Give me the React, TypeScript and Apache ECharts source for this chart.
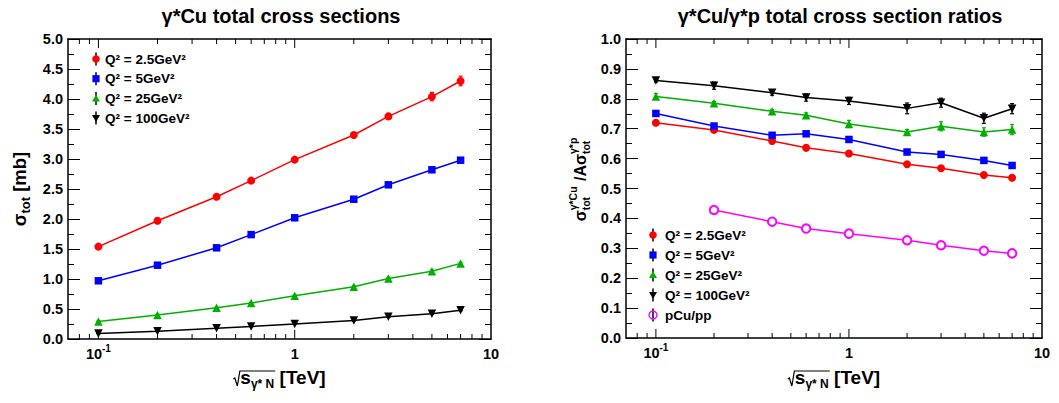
import React, { useEffect, useRef } from 'react';
import * as echarts from 'echarts';

// ---------- data ----------
const energies = [0.1, 0.2, 0.4, 0.6, 1, 2, 3, 5, 7];
const pCuEnergies = [0.2, 0.4, 0.6, 1, 2, 3, 5, 7];

const sigmaQ2_2p5 = [1.54, 1.97, 2.37, 2.64, 2.99, 3.40, 3.71, 4.04, 4.30];
const sigmaQ2_5 = [0.97, 1.23, 1.52, 1.74, 2.02, 2.33, 2.57, 2.82, 2.98];
const sigmaQ2_25 = [0.29, 0.40, 0.52, 0.60, 0.72, 0.87, 1.01, 1.13, 1.26];
const sigmaQ2_100 = [0.09, 0.13, 0.18, 0.21, 0.25, 0.31, 0.37, 0.42, 0.48];
const sigmaErr_2p5 = [0.03, 0.03, 0.03, 0.03, 0.035, 0.04, 0.05, 0.07, 0.08];
const sigmaErr_5 = [0.02, 0.02, 0.02, 0.02, 0.025, 0.03, 0.03, 0.04, 0.04];
const sigmaErr_25 = [0.01, 0.01, 0.01, 0.01, 0.015, 0.015, 0.02, 0.02, 0.02];
const sigmaErr_100 = [0.005, 0.005, 0.005, 0.005, 0.008, 0.008, 0.01, 0.01, 0.01];

const ratioQ2_2p5 = [0.720, 0.696, 0.659, 0.636, 0.617, 0.581, 0.568, 0.545, 0.536];
const ratioQ2_5 = [0.751, 0.709, 0.678, 0.683, 0.664, 0.622, 0.614, 0.594, 0.577];
const ratioQ2_25 = [0.808, 0.785, 0.758, 0.745, 0.716, 0.689, 0.708, 0.689, 0.697];
const ratioQ2_100 = [0.861, 0.844, 0.820, 0.804, 0.793, 0.768, 0.787, 0.735, 0.767];
const ratioPCu = [0.428, 0.389, 0.366, 0.349, 0.327, 0.310, 0.292, 0.283];
const ratioErr_2p5 = [0.004, 0.004, 0.004, 0.004, 0.005, 0.005, 0.005, 0.006, 0.006];
const ratioErr_5 = [0.005, 0.005, 0.005, 0.006, 0.006, 0.006, 0.007, 0.007, 0.007];
const ratioErr_25 = [0.010, 0.006, 0.006, 0.008, 0.012, 0.008, 0.015, 0.014, 0.017];
const ratioErr_100 = [0.005, 0.012, 0.008, 0.012, 0.012, 0.018, 0.015, 0.017, 0.017];

const leftYTicks = { min: 0, max: 5, interval: 0.5 };
const rightYTicks = { min: 0, max: 1, interval: 0.1 };
const xRange = { min: 0.07, max: 10 };
const xMajorTicks = [0.1, 1];
const xMinorTicks = [0.08, 0.09, 0.2, 0.3, 0.4, 0.5, 0.6, 0.7, 0.8, 0.9, 2, 3, 4, 5, 6, 7, 8, 9];

const legendLabels = ['Q² = 2.5GeV²', 'Q² = 5GeV²', 'Q² = 25GeV²', 'Q² = 100GeV²', 'pCu/pp'];

// ---------- styles ----------
const FONT = '"Liberation Sans", Arial, Helvetica, sans-serif';
const RED = '#ff0000';
const BLUE = '#0000ff';
const GREEN = '#00b000';
const BLACK = '#000000';
const MAGENTA = '#ff00ff';

let measureCtx: CanvasRenderingContext2D | null = null;
function measure(text: string, size: number): number {
  if (!measureCtx) measureCtx = document.createElement('canvas').getContext('2d');
  if (!measureCtx) return text.length * size * 0.6;
  measureCtx.font = `bold ${size}px ${FONT}`;
  return measureCtx.measureText(text).width;
}

type Seg =
  | { text: string; size: number; dy: number }
  | { sub: string; sup: string; size: number; subDy: number; supDy: number };

function mathLayout(segs: Seg[]) {
  let x = 0;
  const items: { text: string; size: number; x: number; dy: number }[] = [];
  for (const s of segs) {
    if ('text' in s) {
      items.push({ text: s.text, size: s.size, x, dy: s.dy });
      x += measure(s.text, s.size);
    } else {
      items.push({ text: s.sub, size: s.size, x, dy: s.subDy });
      items.push({ text: s.sup, size: s.size, x, dy: s.supDy });
      x += Math.max(measure(s.sub, s.size), measure(s.sup, s.size)) + 1;
    }
  }
  return { items, width: x };
}

function mathChildren(items: { text: string; size: number; x: number; dy: number }[], offX: number) {
  return items.map((it) => ({
    type: 'text',
    x: it.x + offX,
    y: it.dy - 0.35 * it.size,
    style: {
      text: it.text,
      fill: '#000',
      font: `bold ${it.size}px ${FONT}`,
      textAlign: 'left',
      textVerticalAlign: 'middle',
    },
  }));
}

function xTitle(cx: number, baseY: number) {
  const main = 19;
  const sub = 12;
  const { items, width } = mathLayout([
    { text: 's', size: main, dy: 0 },
    { text: 'γ* N', size: sub, dy: 4 },
    { text: ' [TeV]', size: main, dy: 0 },
  ]);
  const radW = 7;
  const left = cx - (width + radW) / 2;
  const xs = left + radW;
  const subEnd = xs + measure('s', main) + measure('γ* N', sub) + 1;
  return {
    type: 'group',
    children: [
      {
        type: 'polyline',
        shape: {
          points: [
            [xs - 7, baseY - 5],
            [xs - 5.5, baseY - 6],
            [xs - 3, baseY + 2],
            [xs - 0.5, baseY - 13],
            [subEnd, baseY - 13],
          ],
        },
        style: { stroke: '#000', lineWidth: 1.2, fill: 'none' },
      },
      ...mathChildren(items, 0).map((c: any) => ({ ...c, x: c.x + xs, y: c.y + baseY })),
    ],
  };
}

function yTitleGroup(segs: Seg[], baseX: number, cy: number) {
  const { items, width } = mathLayout(segs);
  return {
    type: 'group',
    x: baseX,
    y: cy,
    rotation: Math.PI / 2,
    children: mathChildren(items, -width / 2),
  };
}

function legendMarker(kind: string, cx: number, cy: number) {
  switch (kind) {
    case 'circle':
      return { type: 'circle', shape: { cx, cy, r: 3.8 }, style: { fill: RED } };
    case 'rect':
      return { type: 'rect', shape: { x: cx - 3.6, y: cy - 3.6, width: 7.2, height: 7.2 }, style: { fill: BLUE } };
    case 'up':
      return { type: 'polygon', shape: { points: [[cx, cy - 4], [cx + 4, cy + 3], [cx - 4, cy + 3]] }, style: { fill: GREEN } };
    case 'down':
      return { type: 'polygon', shape: { points: [[cx, cy + 4], [cx + 4, cy - 3], [cx - 4, cy - 3]] }, style: { fill: BLACK } };
    default:
      return { type: 'circle', shape: { cx, cy, r: 4 }, style: { fill: 'none', stroke: MAGENTA, lineWidth: 1.4 } };
  }
}

function legendGroup(kinds: string[], labels: string[], mx: number, tx: number, y0: number, dy: number) {
  const children: any[] = [];
  kinds.forEach((k, i) => {
    const cy = y0 + i * dy;
    children.push({ type: 'line', shape: { x1: mx, y1: cy - 6.5, x2: mx, y2: cy + 6.5 }, style: { stroke: '#000', lineWidth: 1.5 } });
    children.push(legendMarker(k, mx, cy));
    children.push({
      type: 'text',
      x: tx,
      y: cy,
      style: { text: labels[i], fill: '#000', font: `bold 13.5px ${FONT}`, textAlign: 'left', textVerticalAlign: 'middle' },
    });
  });
  return { type: 'group', children };
}

// ---------- axes ----------
function logXAxis(grid: number, position: 'bottom' | 'top') {
  return {
    gridIndex: grid,
    type: 'log',
    logBase: 10,
    min: xRange.min,
    max: xRange.max,
    position,
    axisLine: { show: true, onZero: false, lineStyle: { color: '#000', width: 1.5 } },
    axisTick: { show: false },
    minorTick: { show: false },
    splitLine: { show: false },
    axisLabel: {
      show: position === 'bottom',
      margin: 4,
      formatter: (v: number) => {
        const l = Math.log10(v);
        const e = Math.round(l);
        if (Math.abs(l - e) > 1e-6) return '';
        if (e === 0) return '{b|1}';
        if (e === 1) return '{b|10}';
        return `{b|10}{s|${e}}`;
      },
      rich: {
        b: { fontFamily: FONT, fontWeight: 'bold', fontSize: 14.5, color: '#000', lineHeight: 22, verticalAlign: 'middle' },
        s: { fontFamily: FONT, fontWeight: 'bold', fontSize: 10, color: '#000', lineHeight: 11, verticalAlign: 'top' },
      },
    },
  };
}

function valYAxis(grid: number, position: 'left' | 'right', t: { min: number; max: number; interval: number }) {
  return {
    gridIndex: grid,
    type: 'value',
    min: t.min,
    max: t.max,
    interval: t.interval,
    position,
    axisLine: { show: true, onZero: false, lineStyle: { color: '#000', width: 1.5 } },
    axisTick: { show: true, inside: true, length: 12, lineStyle: { color: '#000', width: 1 } },
    minorTick: { show: true, splitNumber: 2, length: 6, lineStyle: { color: '#000', width: 1 } },
    splitLine: { show: false },
    minorSplitLine: { show: false },
    axisLabel: {
      show: position === 'left',
      margin: 5,
      color: '#000',
      fontFamily: FONT,
      fontWeight: 'bold',
      fontSize: 14.5,
      formatter: (v: number) => v.toFixed(1),
    },
  };
}

// ---------- series helpers ----------
function tickSeries(xi: number, yi: number, yMin: number) {
  const data = [
    ...xMajorTicks.map((v) => [v, yMin, 1]),
    ...xMinorTicks.map((v) => [v, yMin, 0]),
  ];
  return {
    type: 'custom',
    xAxisIndex: xi,
    yAxisIndex: yi,
    silent: true,
    z: 5,
    data,
    renderItem: (params: any, api: any) => {
      const p = api.coord([api.value(0), api.value(1)]);
      const cs = params.coordSys;
      const len = api.value(2) ? 9 : 5;
      const style = { stroke: '#000', lineWidth: 1 };
      return {
        type: 'group',
        children: [
          { type: 'line', shape: { x1: p[0], y1: cs.y + cs.height, x2: p[0], y2: cs.y + cs.height - len }, style },
          { type: 'line', shape: { x1: p[0], y1: cs.y, x2: p[0], y2: cs.y + len }, style },
        ],
      };
    },
  };
}

function errSeries(xi: number, yi: number, xs: number[], ys: number[], errs: number[], color: string) {
  return {
    type: 'custom',
    xAxisIndex: xi,
    yAxisIndex: yi,
    silent: true,
    z: 2,
    data: xs.map((x, i) => [x, ys[i], errs[i]]),
    renderItem: (_params: any, api: any) => {
      const x = api.value(0);
      const y = api.value(1);
      const e = api.value(2);
      const top = api.coord([x, y + e]);
      const bot = api.coord([x, y - e]);
      const style = { stroke: color, lineWidth: 1.2 };
      return {
        type: 'group',
        children: [
          { type: 'line', shape: { x1: top[0], y1: top[1], x2: bot[0], y2: bot[1] }, style },
          { type: 'line', shape: { x1: top[0] - 2, y1: top[1], x2: top[0] + 2, y2: top[1] }, style },
          { type: 'line', shape: { x1: bot[0] - 2, y1: bot[1], x2: bot[0] + 2, y2: bot[1] }, style },
        ],
      };
    },
  };
}

function lineSeries(name: string, xi: number, yi: number, xs: number[], ys: number[], color: string, marker: string) {
  const base: any = {
    name,
    type: 'line',
    xAxisIndex: xi,
    yAxisIndex: yi,
    data: xs.map((x, i) => [x, ys[i]]),
    lineStyle: { color, width: 1.5 },
    itemStyle: { color },
    z: 3,
    silent: true,
  };
  if (marker === 'circle') Object.assign(base, { symbol: 'circle', symbolSize: 8 });
  if (marker === 'rect') Object.assign(base, { symbol: 'rect', symbolSize: 7.5 });
  if (marker === 'up') Object.assign(base, { symbol: 'triangle', symbolSize: 8.5 });
  if (marker === 'down') Object.assign(base, { symbol: 'triangle', symbolSize: 8.5, symbolRotate: 180 });
  if (marker === 'open')
    Object.assign(base, { symbol: 'emptyCircle', symbolSize: 8.5, itemStyle: { color, borderColor: color, borderWidth: 1.4 } });
  return base;
}

export default function App() {
  const ref = useRef<HTMLDivElement>(null);
  useEffect(() => {
    if (!ref.current) return;
    const chart = echarts.init(ref.current, null, { renderer: 'svg' });

    const option: any = {
      animation: false,
      backgroundColor: '#fff',
      grid: [
        { left: 68, top: 39, width: 423, height: 300 },
        { left: 626, top: 39, width: 416, height: 299 },
      ],
      xAxis: [logXAxis(0, 'bottom'), logXAxis(0, 'top'), logXAxis(1, 'bottom'), logXAxis(1, 'top')],
      yAxis: [
        valYAxis(0, 'left', leftYTicks),
        valYAxis(0, 'right', leftYTicks),
        valYAxis(1, 'left', rightYTicks),
        valYAxis(1, 'right', rightYTicks),
      ],
      series: [
        tickSeries(0, 0, leftYTicks.min),
        tickSeries(2, 2, rightYTicks.min),
        errSeries(0, 0, energies, sigmaQ2_2p5, sigmaErr_2p5, RED),
        errSeries(0, 0, energies, sigmaQ2_5, sigmaErr_5, BLUE),
        errSeries(0, 0, energies, sigmaQ2_25, sigmaErr_25, GREEN),
        errSeries(0, 0, energies, sigmaQ2_100, sigmaErr_100, BLACK),
        lineSeries(legendLabels[0], 0, 0, energies, sigmaQ2_2p5, RED, 'circle'),
        lineSeries(legendLabels[1], 0, 0, energies, sigmaQ2_5, BLUE, 'rect'),
        lineSeries(legendLabels[2], 0, 0, energies, sigmaQ2_25, GREEN, 'up'),
        lineSeries(legendLabels[3], 0, 0, energies, sigmaQ2_100, BLACK, 'down'),
        errSeries(2, 2, energies, ratioQ2_2p5, ratioErr_2p5, RED),
        errSeries(2, 2, energies, ratioQ2_5, ratioErr_5, BLUE),
        errSeries(2, 2, energies, ratioQ2_25, ratioErr_25, GREEN),
        errSeries(2, 2, energies, ratioQ2_100, ratioErr_100, BLACK),
        lineSeries(legendLabels[0], 2, 2, energies, ratioQ2_2p5, RED, 'circle'),
        lineSeries(legendLabels[1], 2, 2, energies, ratioQ2_5, BLUE, 'rect'),
        lineSeries(legendLabels[2], 2, 2, energies, ratioQ2_25, GREEN, 'up'),
        lineSeries(legendLabels[3], 2, 2, energies, ratioQ2_100, BLACK, 'down'),
        lineSeries(legendLabels[4], 2, 2, pCuEnergies, ratioPCu, MAGENTA, 'open'),
      ],
      graphic: [
        {
          type: 'text',
          x: 281,
          y: 16,
          style: { text: 'γ*Cu total cross sections', fill: '#000', font: `bold 20px ${FONT}`, textAlign: 'center', textVerticalAlign: 'middle' },
        },
        {
          type: 'text',
          x: 840,
          y: 16,
          style: { text: 'γ*Cu/γ*p total cross section ratios', fill: '#000', font: `bold 20px ${FONT}`, textAlign: 'center', textVerticalAlign: 'middle' },
        },
        legendGroup(['circle', 'rect', 'up', 'down'], legendLabels.slice(0, 4), 96, 105, 59, 19.7),
        legendGroup(['circle', 'rect', 'up', 'down', 'open'], legendLabels, 653, 665, 235, 20),
        xTitle(279.5, 384),
        xTitle(834, 384),
        yTitleGroup(
          [
            { text: 'σ', size: 18.5, dy: 0 },
            { text: 'tot', size: 13, dy: 4 },
            { text: ' [mb]', size: 18.5, dy: 0 },
          ],
          26,
          189
        ),
        yTitleGroup(
          [
            { text: 'σ', size: 16, dy: 0 },
            { sub: 'tot', sup: 'γ*Cu', size: 10.5, subDy: 4, supDy: -9 },
            { text: ' /A', size: 16, dy: 0 },
            { text: 'σ', size: 16, dy: 0 },
            { sub: 'tot', sup: 'γ*p', size: 10.5, subDy: 4, supDy: -9 },
          ],
          586,
          179
        ),
      ],
    };
    chart.setOption(option);
    return () => chart.dispose();
  }, []);
  return <div ref={ref} style={{ position: 'absolute', left: 0, top: 0, width: 1059, height: 403 }} />;
}
